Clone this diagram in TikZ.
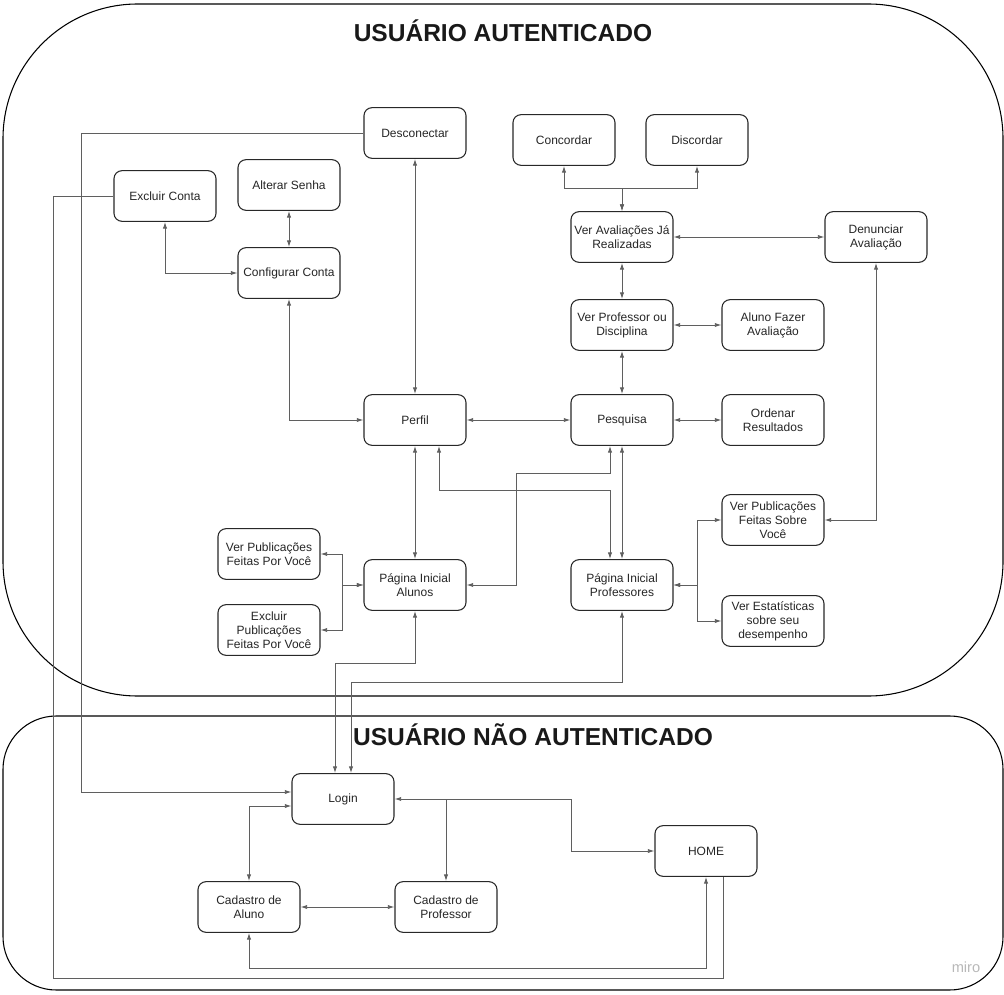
\documentclass[tikz,border=0pt]{standalone}
\usepackage{fontspec}
\setmainfont{Liberation Sans}
\usepackage{tikz}
\usetikzlibrary{arrows.meta}
\definecolor{wiregray}{RGB}{95,95,95}
\definecolor{framedark}{RGB}{40,40,40}
\newcommand{\screen}[3]{\node[screenbox] (#1) at (#2) {#3};}
\newcommand{\zonetitle}[3]{\node[font=\fontsize{18.4}{22}\selectfont\bfseries, text=black!90] (#1) at (#2) {#3};}

\begin{document}
\begin{tikzpicture}[x=0.75pt, y=-0.75pt, >={Latex[length=5pt,width=3.2pt]},
  screenbox/.style={draw=framedark, line width=0.8pt, rounded corners=6pt, fill=white,
    minimum width=76.5pt, minimum height=38pt, align=center, inner sep=1pt,
    font=\fontsize{9}{10.5}\selectfont, text=black!85},
  wire/.style={draw=wiregray, line width=0.7pt}]
  \useasboundingbox (0,0) rectangle (1004,995);
  \draw[black, line width=0.8pt, rounded corners=101pt] (3,4) rectangle (1003,696);
  \draw[black, line width=0.8pt, rounded corners=40pt] (3,716) rectangle (1003,990);
  \zonetitle{authtitle}{503,31}{USUÁRIO AUTENTICADO}
  \zonetitle{guesttitle}{533,735}{USUÁRIO NÃO AUTENTICADO}

  \screen{desc}{415,133}{Desconectar}
  \screen{concordar}{564,140}{Concordar}
  \screen{discordar}{697,140}{Discordar}
  \screen{exconta}{165,196}{Excluir Conta}
  \screen{altsenha}{289,185}{Alterar Senha}
  \screen{confconta}{289,273}{Configurar Conta}
  \screen{veraval}{622,237}{Ver Avaliações Já\\Realizadas}
  \screen{denunciar}{876,237}{Denunciar\\Avaliação}
  \screen{verprof}{622,325}{Ver Professor ou\\Disciplina}
  \screen{alunoaval}{773,325}{Aluno Fazer\\Avaliação}
  \screen{perfil}{415,420}{Perfil}
  \screen{pesquisa}{622,420}{Pesquisa}
  \screen{ordenar}{773,420}{Ordenar\\Resultados}
  \screen{pubsobre}{773,520}{Ver Publicações\\Feitas Sobre\\Você}
  \screen{pubpor}{269,554}{Ver Publicações\\Feitas Por Você}
  \screen{pialunos}{415,585}{Página Inicial\\Alunos}
  \screen{piprof}{622,585}{Página Inicial\\Professores}
  \screen{expub}{269,630}{Excluir\\Publicações\\Feitas Por Você}
  \screen{estat}{773,621}{Ver Estatísticas\\sobre seu\\desempenho}
  \screen{login}{343,799}{Login}
  \screen{home}{706,851}{HOME}
  \screen{cadaluno}{249,907}{Cadastro de\\Aluno}
  \screen{cadprof}{446,907}{Cadastro de\\Professor}

  \draw[wire,->] (desc.west) -| (81,792) -- ([yshift=5.25pt]login.west);
  \draw[wire] (exconta.west) -| (53,978) -| ([xshift=12.75pt]home.south);
  \draw[wire,<->] (home.south) -- (706,968) -| (cadaluno.south);
  \draw[wire,<->] (login.east) -- (571,799) |- (home.west);
  \draw[wire,->] (login.east -| cadprof.north) -- (cadprof.north);
  \draw[wire,<->] ([yshift=-5.25pt]login.west) -| (cadaluno.north);
  \draw[wire,<->] (cadaluno.east) -- (cadprof.west);
  \draw[wire,<->] (pialunos.south) -- (415,663) -| ([xshift=-6pt]login.north);
  \draw[wire,<->] (piprof.south) -- (622,682) -| ([xshift=6pt]login.north);
  \draw[wire,<->] (altsenha.south) -- (confconta.north);
  \draw[wire,<->] (exconta.south) |- (confconta.west);
  \draw[wire,<->] (confconta.south) |- (perfil.west);
  \draw[wire,<->] (desc.south) -- (perfil.north);
  \draw[wire,<->] (perfil.east) -- (pesquisa.west);
  \draw[wire,<->] (pesquisa.east) -- (ordenar.west);
  \draw[wire,<->] (pesquisa.north) -- (verprof.south);
  \draw[wire,<->] (verprof.east) -- (alunoaval.west);
  \draw[wire,<->] (verprof.north) -- (veraval.south);
  \draw[wire,<->] (veraval.east) -- (denunciar.west);
  \draw[wire,<->] (concordar.south) -- (564,188) -| (veraval.north);
  \draw[wire,<->] (discordar.south) -- (697,188) -| (veraval.north);
  \draw[wire,<->] (denunciar.south) |- (pubsobre.east);
  \draw[wire,<->] (piprof.east) -- (697,585) |- (pubsobre.west);
  \draw[wire,<->] (piprof.east) -- (697,585) |- (estat.west);
  \draw[wire,<->] (pialunos.west) -- (342,585) |- (pubpor.east);
  \draw[wire,<->] (pialunos.west) -- (342,585) |- (expub.east);
  \draw[wire,<->] (perfil.south) -- (pialunos.north);
  \draw[wire,<->] ([xshift=18pt]perfil.south) -- (439,490) -| ([xshift=-9pt]piprof.north);
  \draw[wire,<->] ([xshift=-9pt]pesquisa.south) -- (610,473) -| (516,585) -- (pialunos.east);
  \draw[wire,<->] (pesquisa.south) -- (piprof.north);

  \node[text=black!28, font=\fontsize{11}{13}\selectfont] (mirotag) at (966,967) {miro};
\end{tikzpicture}
\end{document}
